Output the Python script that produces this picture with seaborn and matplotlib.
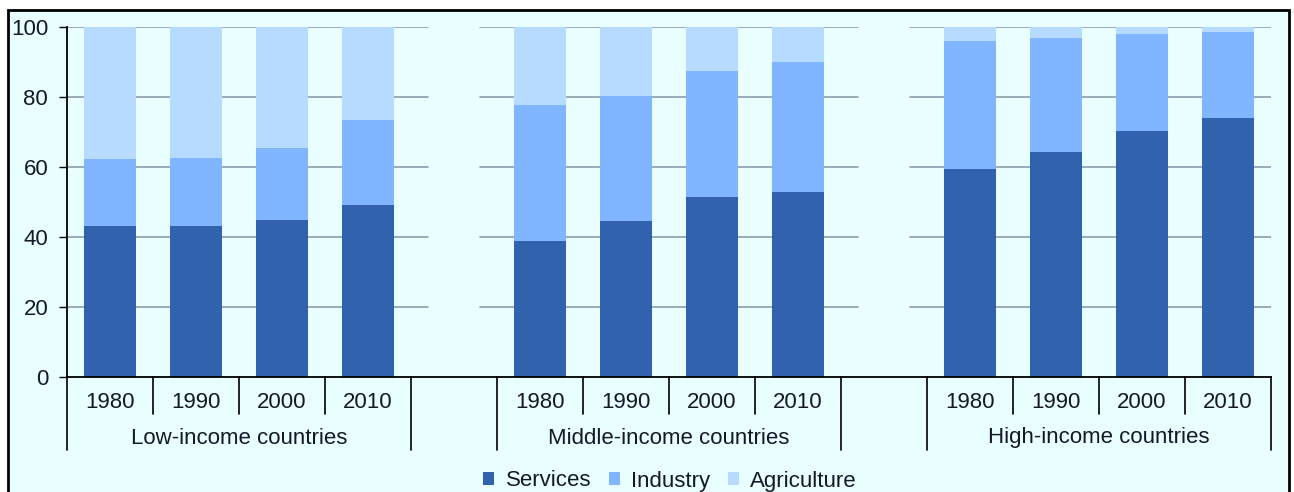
import matplotlib
matplotlib.use("Agg")
import matplotlib.pyplot as plt
import matplotlib.transforms as mtransforms
from matplotlib.patches import Rectangle, Patch
import seaborn as sns
import pandas as pd
import numpy as np

# ---- data ----
groups = ["Low-income countries", "Middle-income countries", "High-income countries"]
years = ["1980", "1990", "2000", "2010"]
series = ["Services", "Industry", "Agriculture"]
services = [43.0, 43.1, 44.9, 49.2, 38.9, 44.5, 51.3, 52.9, 59.3, 64.2, 70.2, 74.1]
industry = [19.2, 19.5, 20.6, 24.1, 38.9, 35.9, 36.2, 37.2, 36.8, 32.7, 27.8, 24.6]
agriculture = [37.8, 37.4, 34.5, 26.7, 22.2, 19.6, 12.5, 9.9, 3.9, 3.1, 2.0, 1.3]
yticks = [0, 20, 40, 60, 80, 100]

colors = ["#3062AD", "#80B6FF", "#B6DBFF"]
bg = "#E9FEFF"
txt = "#15182a"

# ---- build table ----
slots = []
for g in groups:
    for y in years:
        slots.append(f"{g}|{y}")
order = []
for gi, g in enumerate(groups):
    for y in years:
        order.append(f"{g}|{y}")
    if gi < len(groups) - 1:
        order.append(f"gap{gi}")

df = pd.DataFrame({"slot": slots, "Services": services,
                   "Industry": industry, "Agriculture": agriculture})
df["c1"] = df["Services"]
df["c2"] = df["Services"] + df["Industry"]
df["c3"] = df["c2"] + df["Agriculture"]

sns.set_theme(style="white")
plt.rcParams["font.family"] = ["Liberation Sans", "DejaVu Sans"]

fig = plt.figure(figsize=(12.94, 4.92), dpi=100)
fig.patch.set_facecolor("white")
# outer frame
W, H = 1294, 492
frame = Rectangle((8 / W, -0.02), (1289 - 8) / W, (492 - 10) / H + 0.02,
                  transform=fig.transFigure, facecolor=bg,
                  edgecolor="black", linewidth=2, zorder=-10)
fig.patches.append(frame)

ax = fig.add_axes([67 / W, (492 - 377) / H, (1271 - 67) / W, 350 / H])
ax.set_zorder(1)
ax.patch.set_alpha(0)

# gridlines (broken where the empty slots are)
segs = [(-0.5, 3.7), (4.3, 8.7), (9.3, 13.5)]
for t in yticks[1:]:
    for a, b in segs:
        ax.plot([a, b], [t, t], color="#8D9CAD", lw=1.2, zorder=0.5)

for col, c in zip(["c3", "c2", "c1"], colors[::-1]):
    sns.barplot(data=df, x="slot", y=col, order=order, color=c, saturation=1,
                width=0.6, errorbar=None, linewidth=0, ax=ax, zorder=2)

ax.set_xlim(-0.5, 13.5)
ax.set_ylim(0, 100)
ax.set_xlabel("")
ax.set_ylabel("")
ax.set_xticks([])
ax.set_yticks(yticks)
ax.set_yticklabels([str(t) for t in yticks], fontsize=16, color=txt)
ax.tick_params(axis="y", length=5.5, width=1, color="black", pad=8, left=True)
for s in ["top", "right"]:
    ax.spines[s].set_visible(False)
ax.spines["left"].set_color("black")
ax.spines["left"].set_linewidth(1.3)
ax.spines["bottom"].set_color("black")
ax.spines["bottom"].set_linewidth(1.3)

# category axis: dividers and labels
trans = mtransforms.blended_transform_factory(ax.transData, ax.transAxes)
short = 37 / 350
long_ = 73 / 350
starts = [0, 5, 10]
for gi, g in enumerate(groups):
    s0 = starts[gi]
    for k in range(5):
        xv = s0 - 0.5 + k
        ln = long_ if k in (0, 4) else short
        ax.plot([xv, xv], [0, -ln], transform=trans, color="black", lw=1.2,
                clip_on=False)
    for k, y in enumerate(years):
        ax.text(s0 + k, -25 / 350, y, transform=trans, ha="center", va="center",
                fontsize=16, color=txt)
    ax.text(s0 + 1.5, -61 / 350, g, transform=trans, ha="center", va="center",
            fontsize=16, color=txt)

handles = [Patch(facecolor=c, edgecolor="none", label=s) for s, c in zip(series, colors)]
fig.legend(handles=handles, loc="center", bbox_to_anchor=(670 / W, 11 / H), ncol=3,
           frameon=False, fontsize=16, handlelength=0.5, handleheight=0.5,
           handletextpad=0.5, columnspacing=0.8, labelcolor=txt)

fig.savefig("out.png", dpi=100, facecolor="white")
